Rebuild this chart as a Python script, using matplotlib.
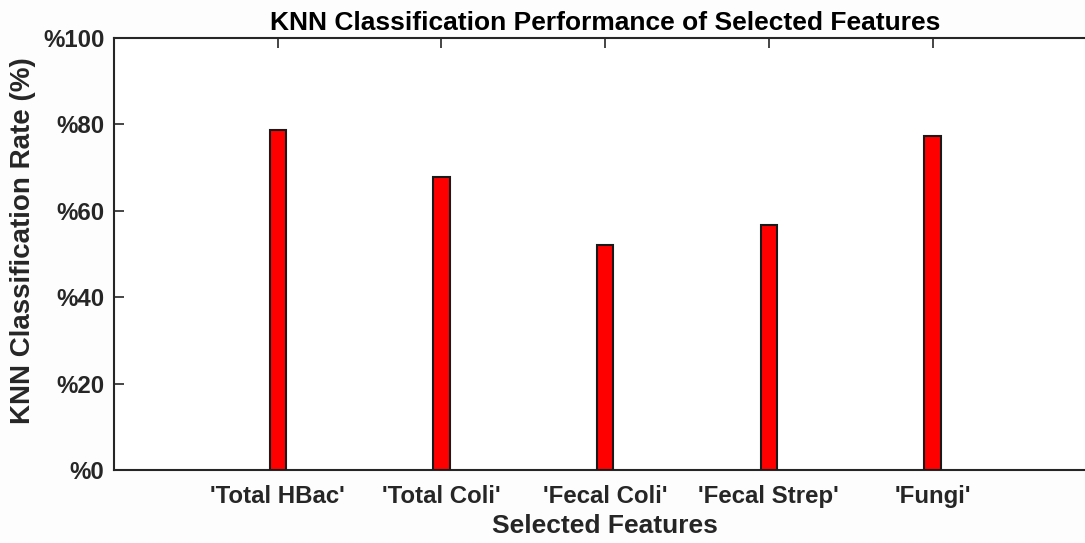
import matplotlib
matplotlib.use("Agg")
import matplotlib.pyplot as plt

categories = ["'Total HBac'", "'Total Coli'", "'Fecal Coli'", "'Fecal Strep'", "'Fungi'"]
rates = [78.8, 67.9, 52.1, 56.8, 77.4]
yticks = [0, 20, 40, 60, 80, 100]
yticklabels = ["%" + str(v) for v in yticks]

plt.rcParams['font.family'] = ['Liberation Sans', 'DejaVu Sans']
plt.rcParams['font.weight'] = 'bold'
txt = '#262626'

fig = plt.figure(figsize=(10.85, 5.43), dpi=100)
fig.patch.set_facecolor('#fdfdfd')
ax = fig.add_axes([114/1085, 73/543, 6*163.7/1085, 432/543])
ax.set_facecolor('white')

x = list(range(1, len(categories) + 1))
ax.bar(x, rates, width=0.1, color='#ff0000', edgecolor='#1a1a1a', linewidth=1.5, zorder=3)

ax.set_xlim(0, 6)
ax.set_ylim(0, 100)
ax.set_xticks(x)
ax.set_xticklabels(categories, fontsize=17.3, fontweight='bold', color=txt)
ax.set_yticks(yticks)
ax.set_yticklabels(yticklabels, fontsize=17.3, fontweight='bold', color=txt)
ax.tick_params(axis='both', direction='in', length=7, width=1.2, color=txt,
               top=True, right=True)
ax.tick_params(axis='y', pad=7)
ax.tick_params(axis='x', pad=11)
for s in ax.spines.values():
    s.set_color(txt)
    s.set_linewidth(1.5)

ax.set_title('KNN Classification Performance of Selected Features', fontsize=19,
             fontweight='bold', color='black', pad=6)
ax.set_xlabel('Selected Features', fontsize=19, fontweight='bold', color=txt)
ax.set_ylabel('KNN Classification Rate (%)', fontsize=20, fontweight='bold', color=txt)
ax.xaxis.set_label_coords(0.5, -(514 - 470) / 432)
ax.yaxis.set_label_coords((36 - 114) / 982.2, (470 - 241) / 432)

fig.savefig('out.png', dpi=100, facecolor=fig.get_facecolor())
